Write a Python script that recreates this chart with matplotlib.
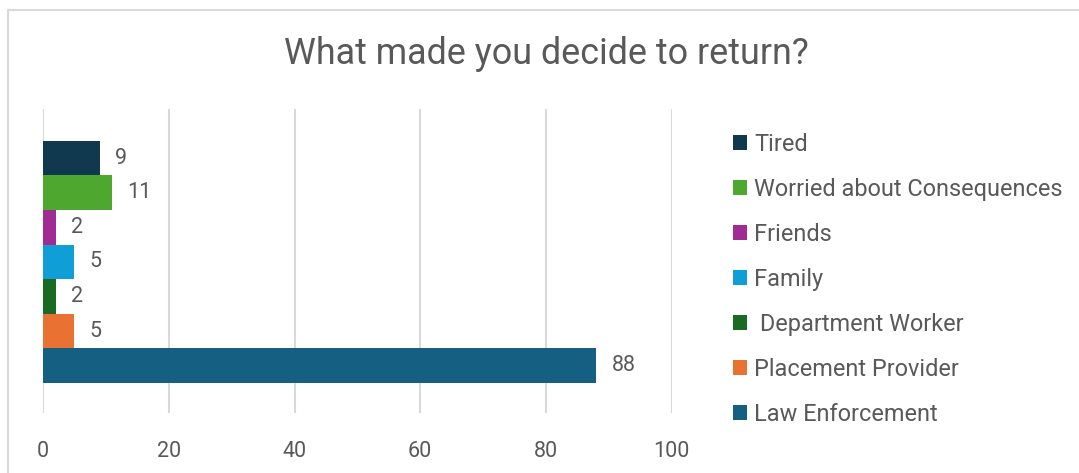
import matplotlib.pyplot as plt
from matplotlib.lines import Line2D

plt.rcParams['font.family'] = ['Roboto', 'DejaVu Sans']

labels = ["Tired", "Worried about Consequences", "Friends", "Family",
          " Department Worker", "Placement Provider", "Law Enforcement"]
values = [9, 11, 2, 5, 2, 5, 88]
colors = ["#10384F", "#4EA72E", "#A02B93", "#0F9ED5", "#196B24", "#E97132", "#156082"]
xticks = [0, 20, 40, 60, 80, 100]

text_col = "#595959"
grid_col = "#D9D9D9"

fig = plt.figure(figsize=(10.79, 4.73), dpi=100)
ax = fig.add_axes([0.0399, 0.127, 0.5826, 0.643])

for i, (lab, v, c) in enumerate(zip(labels, values, colors)):
    ax.barh(i, v, height=1.0, color=c, label=lab, zorder=3)
    ax.annotate(str(v), xy=(v, i), xytext=(11, 0), textcoords="offset points",
                va="center", ha="left", fontsize=15.5, color=text_col)

ax.set_xlim(0, 100)
ax.set_ylim(7.37, -1.43)
ax.set_xticks(xticks)
ax.set_yticks([])
ax.grid(axis="x", color=grid_col, linewidth=1.5, zorder=0)
for s in ax.spines.values():
    s.set_visible(False)
ax.tick_params(axis="x", length=0, labelsize=15.5, labelcolor=text_col, pad=20)

fig.text(0.506, 0.886, "What made you decide to return?", ha="center", va="center",
         fontsize=25.8, color=text_col)

fig.legend(loc="upper left", bbox_to_anchor=(0.6685, 0.744), frameon=False,
           fontsize=16.9, labelcolor=text_col, handlelength=0.6, handleheight=0.6,
           handletextpad=0.3, labelspacing=0.94, borderpad=0)

# chart frame
fig.add_artist(Line2D([0.0074, 0.0074], [0, 0.979], color=grid_col, linewidth=1.5))
fig.add_artist(Line2D([0.0074, 1.0], [0.979, 0.979], color=grid_col, linewidth=1.5))

fig.savefig("out.png", dpi=100, facecolor="white")
